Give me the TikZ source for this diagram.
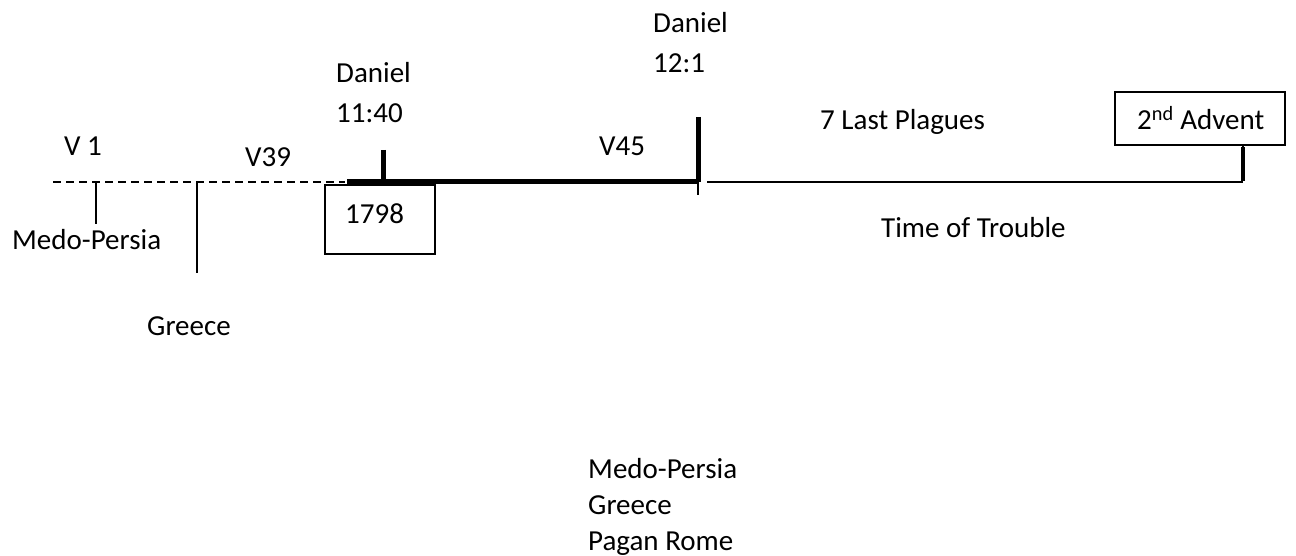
\documentclass[tikz,border=0pt]{standalone}
\usepackage{fontspec}
\setmainfont{Carlito}
\begin{document}
\begin{tikzpicture}[x=1pt,y=-1pt,
  txt/.style={anchor=base west,inner sep=0pt,font=\fontsize{29}{35.4}\selectfont},
  box/.style={draw,line width=1.4pt,inner sep=0pt},
  thin/.style={line width=1.5pt},
  thick/.style={line width=5pt},
  dashline/.style={line width=1.5pt,dash pattern=on 8pt off 5pt}]
\useasboundingbox (0,0) rectangle (1296,556);
% timeline coordinates
\coordinate (d0) at (53,182);
\coordinate (d1) at (345,182);
\coordinate (k0) at (347,182);
\coordinate (k1) at (698,182);
\coordinate (t0) at (707,182);
\coordinate (t1) at (1243,182);
\coordinate (mp0) at (96,183);
\coordinate (mp1) at (96,224);
\coordinate (gr0) at (197,183);
\coordinate (gr1) at (197,273);
\coordinate (dan0) at (383,150);
\coordinate (dan1) at (383,182);
\coordinate (tw0) at (698,117);
\coordinate (tw1) at (698,195);
\coordinate (adv0) at (1243,147);
\coordinate (adv1) at (1243,181);
% lines
\draw[dashline] (d0) -- (d1);
\draw[thick] (k0) -- (k1);
\draw[thin] (t0) -- (t1);
\draw[thin] (mp0) -- (mp1);
\draw[thin] (gr0) -- (gr1);
\draw[thick] (dan0) -- (dan1);
\draw[thin] (k1) -- (tw1);
\draw[thick] (tw0) -- ([yshift=0pt]k1);
% boxes
\node[box,minimum width=110pt,minimum height=69pt] (b1798) at (380,219.5) {};
\node[box,minimum width=170pt,minimum height=53pt] (badv) at (1200,118.5) {};
\draw[thin] (badv.south -| adv0) -- (adv0);
\draw[line width=4pt] (adv0) -- (adv1);
% texts
\node[txt] (v1) at (64,156) {V 1};
\node[txt] (v39) at (245,167) {V39};
\node[txt] (dan1a) at (336,83) {Daniel};
\node[txt] (dan1b) at (336,123) {11:40};
\node[txt] (dan2a) at (653,33) {Daniel};
\node[txt] (dan2b) at (653,73) {12:1};
\node[txt] (v45) at (599,156) {V45};
\node[txt] (plag) at (820,130) {7 Last Plagues};
\node[txt] (trou) at (881,237) {Time of Trouble};
\node[txt] (mp) at (12,250) {Medo-Persia};
\node[txt] (gr) at (147,335) {Greece};
\node[txt] (y1798) at (345,224) {1798};
\node[txt] (adv) at (1137,130) {2\textsuperscript{nd} Advent};
\node[txt] (l1) at (588,478) {Medo-Persia};
\node[txt] (l2) at (588,514) {Greece};
\node[txt] (l3) at (588,550) {Pagan Rome};
\end{tikzpicture}
\end{document}
